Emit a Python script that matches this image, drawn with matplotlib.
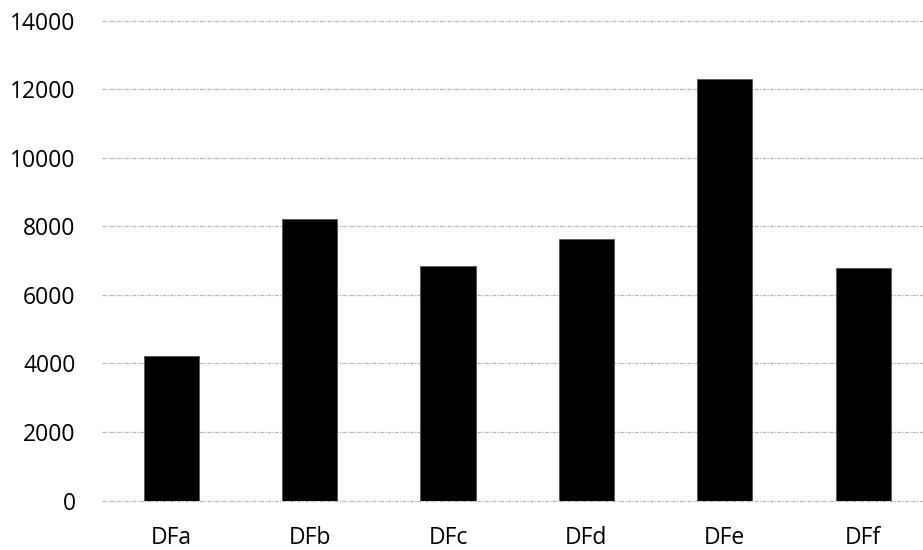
import matplotlib
matplotlib.use("Agg")
import matplotlib.pyplot as plt

categories = ["DFa", "DFb", "DFc", "DFd", "DFe", "DFf"]
values = [4210, 8210, 6830, 7640, 12310, 6790]
yticks = [0, 2000, 4000, 6000, 8000, 10000, 12000, 14000]

plt.rcParams['font.family'] = ['Open Sans', 'DejaVu Sans']

fig = plt.figure(figsize=(9.23, 5.5), dpi=100)
W, H = 923, 550
left, right = 102, 923
bottom, top = 500.5, 20.7
ax = fig.add_axes([left / W, 1 - bottom / H, (right - left) / W, (bottom - top) / H])

x = list(range(len(categories)))
ax.bar(x, values, width=0.40, color='black', edgecolor='#555555', linewidth=0.6, zorder=3)

step = 138.4
ax.set_xlim(-0.5, -0.5 + (right - left) / step)
ax.set_ylim(0, 14000)
ax.set_yticks(yticks)
ax.set_yticklabels([str(v) for v in yticks])
ax.set_xticks(x)
ax.set_xticklabels(categories)

for v in yticks:
    ax.axhline(v, color='#b4b4b4', linewidth=0.9, linestyle=(0, (3, 1, 1, 1)),
               zorder=1, clip_on=False)

for s in ax.spines.values():
    s.set_visible(False)
ax.tick_params(axis='both', length=0, labelsize=16.5, colors='black')
ax.tick_params(axis='y', pad=19)
ax.tick_params(axis='x', pad=18)

fig.savefig("out.png", dpi=100)
